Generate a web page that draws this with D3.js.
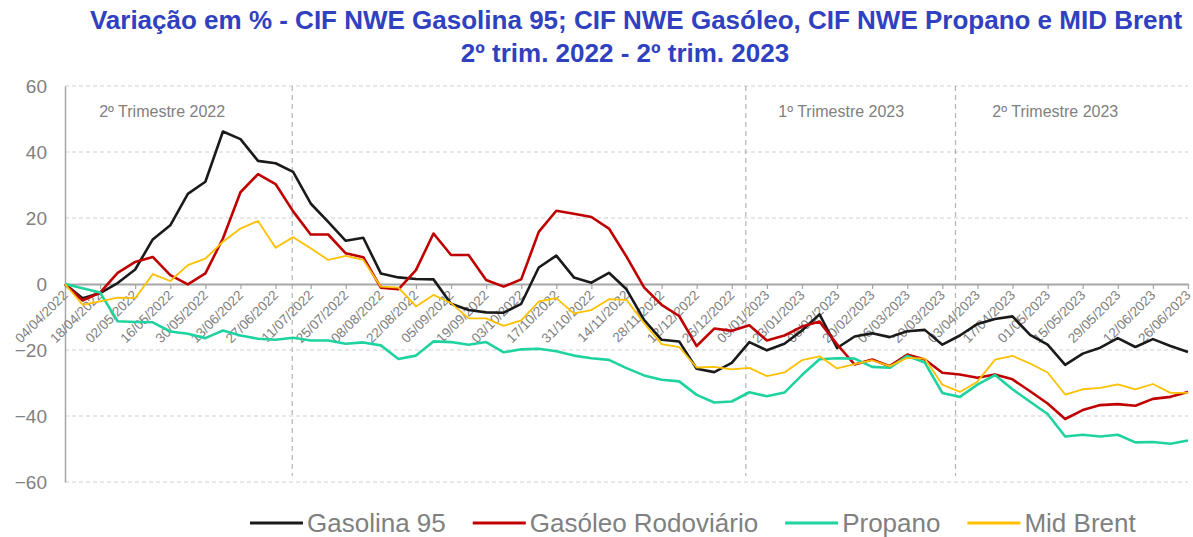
<!DOCTYPE html>
<html>
<head>
<meta charset="utf-8">
<script src="https://cdn.jsdelivr.net/npm/d3@7"></script>
<style>
  body { margin: 0; background: #fff; }
  svg { font-family: "Liberation Sans", Arial, sans-serif; }
</style>
</head>
<body>
<svg id="chart" width="1193" height="537"></svg>
<script>
// semanas (categorias do eixo x)
var weeks = [
  "04/04/2022","11/04/2022","18/04/2022","25/04/2022","02/05/2022","09/05/2022","16/05/2022","23/05/2022",
  "30/05/2022","06/06/2022","13/06/2022","20/06/2022","27/06/2022","04/07/2022","11/07/2022","18/07/2022",
  "25/07/2022","01/08/2022","08/08/2022","15/08/2022","22/08/2022","29/08/2022","05/09/2022","12/09/2022",
  "19/09/2022","26/09/2022","03/10/2022","10/10/2022","17/10/2022","24/10/2022","31/10/2022","07/11/2022",
  "14/11/2022","21/11/2022","28/11/2022","05/12/2022","12/12/2022","19/12/2022","26/12/2022","02/01/2023",
  "09/01/2023","16/01/2023","23/01/2023","30/01/2023","06/02/2023","13/02/2023","20/02/2023","27/02/2023",
  "06/03/2023","13/03/2023","20/03/2023","27/03/2023","03/04/2023","10/04/2023","17/04/2023","24/04/2023",
  "01/05/2023","08/05/2023","15/05/2023","22/05/2023","29/05/2023","05/06/2023","12/06/2023","19/06/2023",
  "26/06/2023"
];

var gasolina = [0,-4.3,-2.8,0.3,4.4,13.5,17.8,27.3,31,46.2,43.9,37.3,36.6,34,24.4,18.8,
  13.1,14,3.2,2.0,1.5,1.4,-6.0,-7.9,-8.6,-8.7,-6.0,5.0,8.6,2.0,0.4,3.4,
  -1.6,-10.9,-16.9,-17.4,-25.7,-26.7,-23.9,-17.6,-20.1,-18.1,-14.1,-9.2,-19.4,-15.9,-14.9,-16.1,
  -14.3,-13.9,-18.4,-15.6,-12.1,-10.6,-9.8,-15.4,-18.4,-24.5,-21.1,-19.3,-16.4,-19.1,-16.7,-18.8,-20.6];

var gasoleo = [0,-5,-2.6,3.4,6.7,8.2,2.7,-0.1,3.2,13.8,27.8,33.3,30.3,22,15,15,
  9.3,8.1,-1.1,-1.6,4.2,15.3,8.8,8.8,1.2,-0.8,1.4,15.8,22.2,21.3,20.3,16.8,
  8.3,-1.0,-6.3,-9.7,-18.8,-13.5,-14.2,-12.5,-17.1,-15.6,-12.9,-11.4,-18.3,-24.4,-22.9,-24.9,
  -21.4,-22.9,-26.9,-27.4,-28.4,-27.4,-28.9,-32.5,-36.2,-40.9,-38.2,-36.7,-36.4,-36.9,-34.8,-34.2,-32.7];

var propano = [0,-1.3,-2.6,-11.3,-11.5,-11.6,-14.4,-15.1,-16.4,-14.1,-15.6,-16.6,-16.9,-16.3,-17.1,-17.1,
  -18.1,-17.7,-18.6,-22.7,-21.7,-17.4,-17.6,-18.4,-17.6,-20.7,-19.8,-19.6,-20.4,-21.7,-22.5,-23,
  -25.5,-27.7,-29,-29.5,-33.6,-35.9,-35.6,-32.8,-34,-32.9,-27.6,-22.8,-22.5,-22.6,-25.1,-25.4,
  -21.8,-23.8,-33,-34.2,-30.5,-27.6,-31.9,-35.7,-39.4,-46.2,-45.7,-46.2,-45.7,-48,-47.9,-48.4,-47.4];

var brent = [0,-6.3,-5.3,-4.1,-4.3,3.0,0.9,5.7,7.7,12.8,16.8,19.1,11,14.2,10.8,7.3,
  8.5,7.3,-0.8,-1.1,-6.8,-3.3,-5.8,-10.4,-10.4,-12.7,-11.0,-5.3,-4.3,-8.9,-7.9,-4.6,
  -4.8,-11.9,-18.2,-19.1,-25.3,-25.1,-25.9,-25.4,-27.9,-26.8,-23.1,-21.9,-25.6,-24.3,-23.1,-24.9,
  -22.4,-22.6,-30.5,-32.7,-29.6,-22.9,-21.8,-24.1,-26.8,-33.5,-31.9,-31.5,-30.4,-31.9,-30.3,-33,-33];

var yTicks = [-60,-40,-20,0,20,40,60];

// divisórias de trimestre (posição em semanas) e respetivas etiquetas
var quarterLines = [12.95, 38.8, 50.75];
var quarterLabels = [
  { text: "2º Trimestre 2022", at: 1.95 },
  { text: "1º Trimestre 2023", at: 40.65 },
  { text: "2º Trimestre 2023", at: 52.85 }
];

var series = [
  { name: "Gasolina 95", values: gasolina, color: "#1a1a1a", width: 2.6 },
  { name: "Gasóleo Rodoviário", values: gasoleo, color: "#c00000", width: 2.6 },
  { name: "Propano", values: propano, color: "#1fd3a0", width: 2.6 },
  { name: "Mid Brent", values: brent, color: "#ffc000", width: 1.8 }
];

var svg = d3.select("#chart");
var grey = "#808080";

var x = d3.scaleLinear().domain([0, weeks.length - 1]).range([65, 1188]);
var y = d3.scaleLinear().domain([-60, 60]).range([482, 86]);

// título
var title = svg.append("g")
  .attr("fill", "#2f41bf")
  .attr("font-weight", "bold")
  .attr("font-size", 26)
  .attr("text-anchor", "middle");
title.append("text").attr("x", 636).attr("y", 29)
  .text("Variação em % - CIF NWE Gasolina 95; CIF NWE Gasóleo, CIF NWE Propano e MID Brent");
title.append("text").attr("x", 625).attr("y", 62)
  .text("2º trim. 2022 - 2º trim. 2023");

// grelha horizontal
svg.append("g")
  .selectAll("line")
  .data(yTicks.filter(function(d) { return d !== 0; }))
  .join("line")
    .attr("x1", x(0)).attr("x2", x(weeks.length - 1))
    .attr("y1", function(d) { return y(d); })
    .attr("y2", function(d) { return y(d); })
    .attr("stroke", "#cfcfcf")
    .attr("stroke-width", 1)
    .attr("stroke-dasharray", "4,3");

// eixo y
var yAxis = svg.append("g")
  .attr("transform", "translate(" + x(0) + ",0)")
  .call(d3.axisLeft(y).tickValues(yTicks).tickSize(0).tickPadding(18));
yAxis.select(".domain").attr("stroke", "#a6a6a6").attr("stroke-width", 1.5);
yAxis.selectAll("text").attr("fill", grey).attr("font-size", 19)
  .attr("font-family", "Liberation Sans, Arial, sans-serif");

// divisórias de trimestre
svg.append("g")
  .selectAll("line")
  .data(quarterLines)
  .join("line")
    .attr("x1", function(d) { return x(d); })
    .attr("x2", function(d) { return x(d); })
    .attr("y1", y(60)).attr("y2", 476)
    .attr("stroke", "#b4b4b4")
    .attr("stroke-width", 1.2)
    .attr("stroke-dasharray", "5,4");

svg.append("g")
  .selectAll("text")
  .data(quarterLabels)
  .join("text")
    .attr("x", function(d) { return x(d.at); })
    .attr("y", y(50.5))
    .attr("fill", grey)
    .attr("font-size", 16)
    .text(function(d) { return d.text; });

// eixo x (cruza em 0)
var xAxis = svg.append("g")
  .attr("transform", "translate(0," + y(0) + ")")
  .call(d3.axisBottom(x)
    .tickValues(d3.range(0, weeks.length, 2))
    .tickFormat(function(i) { return weeks[i]; })
    .tickSize(5).tickSizeOuter(0));
xAxis.select(".domain").attr("stroke", "#a6a6a6").attr("stroke-width", 2);
xAxis.selectAll(".tick line").attr("stroke", "#a6a6a6").attr("stroke-width", 1.2);
xAxis.selectAll("text")
  .attr("fill", grey)
  .attr("font-size", 13.5)
  .attr("font-family", "Liberation Sans, Arial, sans-serif")
  .attr("text-anchor", "end")
  .attr("dy", null)
  .attr("y", 0)
  .attr("transform", "translate(3,12) rotate(-45)");

// linhas
var line = d3.line()
  .x(function(d, i) { return x(i); })
  .y(function(d) { return y(d); });

svg.append("g")
  .selectAll("path")
  .data(series)
  .join("path")
    .attr("fill", "none")
    .attr("stroke", function(d) { return d.color; })
    .attr("stroke-width", function(d) { return d.width; })
    .attr("stroke-linejoin", "round")
    .attr("d", function(d) { return line(d.values); });

// legenda
var legend = svg.append("g").attr("transform", "translate(250,523)");
var lx = 0;
series.forEach(function(s) {
  legend.append("line")
    .attr("x1", lx).attr("x2", lx + 53)
    .attr("stroke", s.color).attr("stroke-width", 3);
  var t = legend.append("text")
    .attr("x", lx + 57).attr("y", 8.5)
    .attr("fill", grey).attr("font-size", 26)
    .text(s.name);
  lx += 57 + t.node().getComputedTextLength() + 27;
});
</script>
</body>
</html>
